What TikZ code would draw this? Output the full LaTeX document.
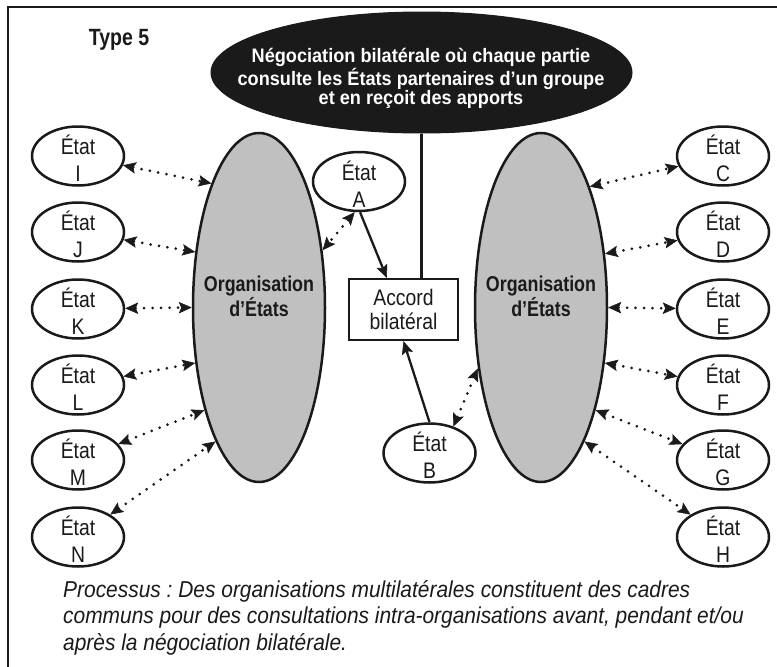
\documentclass[tikz,border=0pt]{standalone}
\usepackage{fontspec}
\setmainfont{Liberation Sans}
\newfontfamily\narrowsans{Liberation Sans}[FakeStretch=0.86]
\newfontfamily\condsans{Liberation Sans}[FakeStretch=0.83]
\newfontfamily\headsans{Liberation Sans}[FakeStretch=0.93]
\newfontfamily\bodysans{Liberation Sans}[FakeStretch=0.91]
\usetikzlibrary{arrows.meta,calc,shapes.geometric}
\definecolor{ink}{HTML}{1A1A1A}
\definecolor{orggrey}{HTML}{C0C0C0}
\frenchspacing

\tikzset{
  linktip/.tip={Stealth[length=13pt, width=11.5pt, inset=2.5pt, line width=0.6pt]},
  statebody/.style={ellipse, draw=ink, line width=2.5pt, fill=white,
    minimum width=92pt, minimum height=59pt, inner sep=0pt},
  statetext/.style={font=\narrowsans\fontsize{22.5}{26.7}\selectfont,
    align=center, inner sep=0pt, text=ink},
  orgbody/.style={ellipse, draw=ink, line width=2.5pt, fill=orggrey,
    minimum width=132pt, minimum height=349pt, inner sep=0pt},
  orgtext/.style={font=\condsans\bfseries\fontsize{21.5}{22.5}\selectfont,
    align=center, inner sep=0pt, text=ink},
  accordbox/.style={rectangle, draw=ink, line width=2.4pt, fill=white,
    minimum width=109pt, minimum height=61pt, inner sep=0pt,
    font=\narrowsans\fontsize{22.5}{23.5}\selectfont, align=center, text=ink},
  negbody/.style={ellipse, fill=ink, draw=ink, line width=1pt,
    minimum width=421pt, minimum height=121pt, inner sep=0pt},
  negtext/.style={font=\headsans\bfseries\fontsize{19.5}{19.5}\selectfont,
    align=center, inner sep=0pt, text=white},
  notetext/.style={font=\bodysans\itshape\fontsize{23}{26.5}\selectfont,
    anchor=base west, inner sep=0pt, text=ink},
  dotlink/.style={draw=ink, line width=3pt, line cap=round,
    dash pattern=on 0pt off 8.5pt, {linktip}-{linktip}},
  solidlink/.style={draw=ink, line width=2.3pt, -{linktip}},
}

\begin{document}
\begin{tikzpicture}[x=1pt, y=-1pt]
  \useasboundingbox (0,0) rectangle (777,667);

  % outer frame (top and left edges)
  \draw[ink, line width=2.2pt] (8,667) -- (8,7) -- (777,7);

  % title
  \node[font=\condsans\bfseries\fontsize{23.5}{24}\selectfont, text=ink,
        anchor=base, inner sep=0pt] (title) at (119,45) {Type 5};

  % negotiation bubble
  \node[negbody] (neg) at (421.5,72.5) {};
  \node[negtext] (negt) at (421,78.5)
    {Négociation bilatérale où chaque partie\\
     consulte les États partenaires d’un groupe\\
     et en reçoit des apports};

  % organisations
  \node[orgbody] (lorg) at (259,307.5) {};
  \node[orgtext] (lorgt) at (259,296.5) {Organisation\\d’États};
  \node[orgbody] (rorg) at (541,307.5) {};
  \node[orgtext] (rorgt) at (541,296.5) {Organisation\\d’États};

  % bilateral agreement
  \node[accordbox] (box) at (403.5,309.5) {Accord\\bilatéral};

  % negotiating states
  \node[statebody] (A) at (359,181.5) {};
  \node[statetext] (At) at (359,184) {État\\A};
  \node[statebody] (B) at (429.5,453) {};
  \node[statetext] (Bt) at (429.5,455.5) {État\\B};

  % member states, left organisation
  \foreach \n/\y in {I/156, J/232, K/309, L/385, M/460, N/537} {
    \node[statebody] (\n) at (78,\y) {};
    \node[statetext] (\n t) at (78,\y+2.5) {État\\\n};
  }
  % member states, right organisation
  \foreach \n/\y in {C/156, D/232, E/309, F/385, G/460, H/537} {
    \node[statebody] (\n) at (723,\y) {};
    \node[statetext] (\n t) at (723,\y+2.5) {État\\\n};
  }

  % link from the bubble down to the agreement
  \draw[ink, line width=2.3pt] (neg.south) -- (neg.south |- box.north);

  % negotiators feed the agreement
  \draw[solidlink] (A.272) -- ($(box.north west)!0.35!(box.north east)$);
  \draw[solidlink] (B.north) -- (box.south);

  % consultations with the organisations
  \draw[dotlink] (A.262) -- (lorg.42.8);
  \draw[dotlink] (B.48) -- (rorg.224.3);

  \draw[dotlink] (I) -- (lorg.111.8);
  \draw[dotlink] (J) -- (lorg.139.1);
  \draw[dotlink] (K) -- (lorg.180);
  \draw[dotlink] (L) -- (lorg.221.4);
  \draw[dotlink] (M) -- (lorg.242.9);
  \draw[dotlink] (N) -- (lorg.252.6);

  \draw[dotlink] (rorg.68.9) -- (C);
  \draw[dotlink] (rorg.40.9) -- (D);
  \draw[dotlink] (rorg.0) -- (E);
  \draw[dotlink] (rorg.-41.8) -- (F);
  \draw[dotlink] (rorg.-62.9) -- (G);
  \draw[dotlink] (rorg.-72.9) -- (H);

  % process note
  \node[notetext] (note1) at (63,597)
    {Processus : Des organisations multilatérales constituent des cadres};
  \node[notetext] (note2) at (63,623)
    {communs pour des consultations intra-organisations avant, pendant et/ou};
  \node[notetext] (note3) at (63,650)
    {après la négociation bilatérale.};
\end{tikzpicture}
\end{document}
